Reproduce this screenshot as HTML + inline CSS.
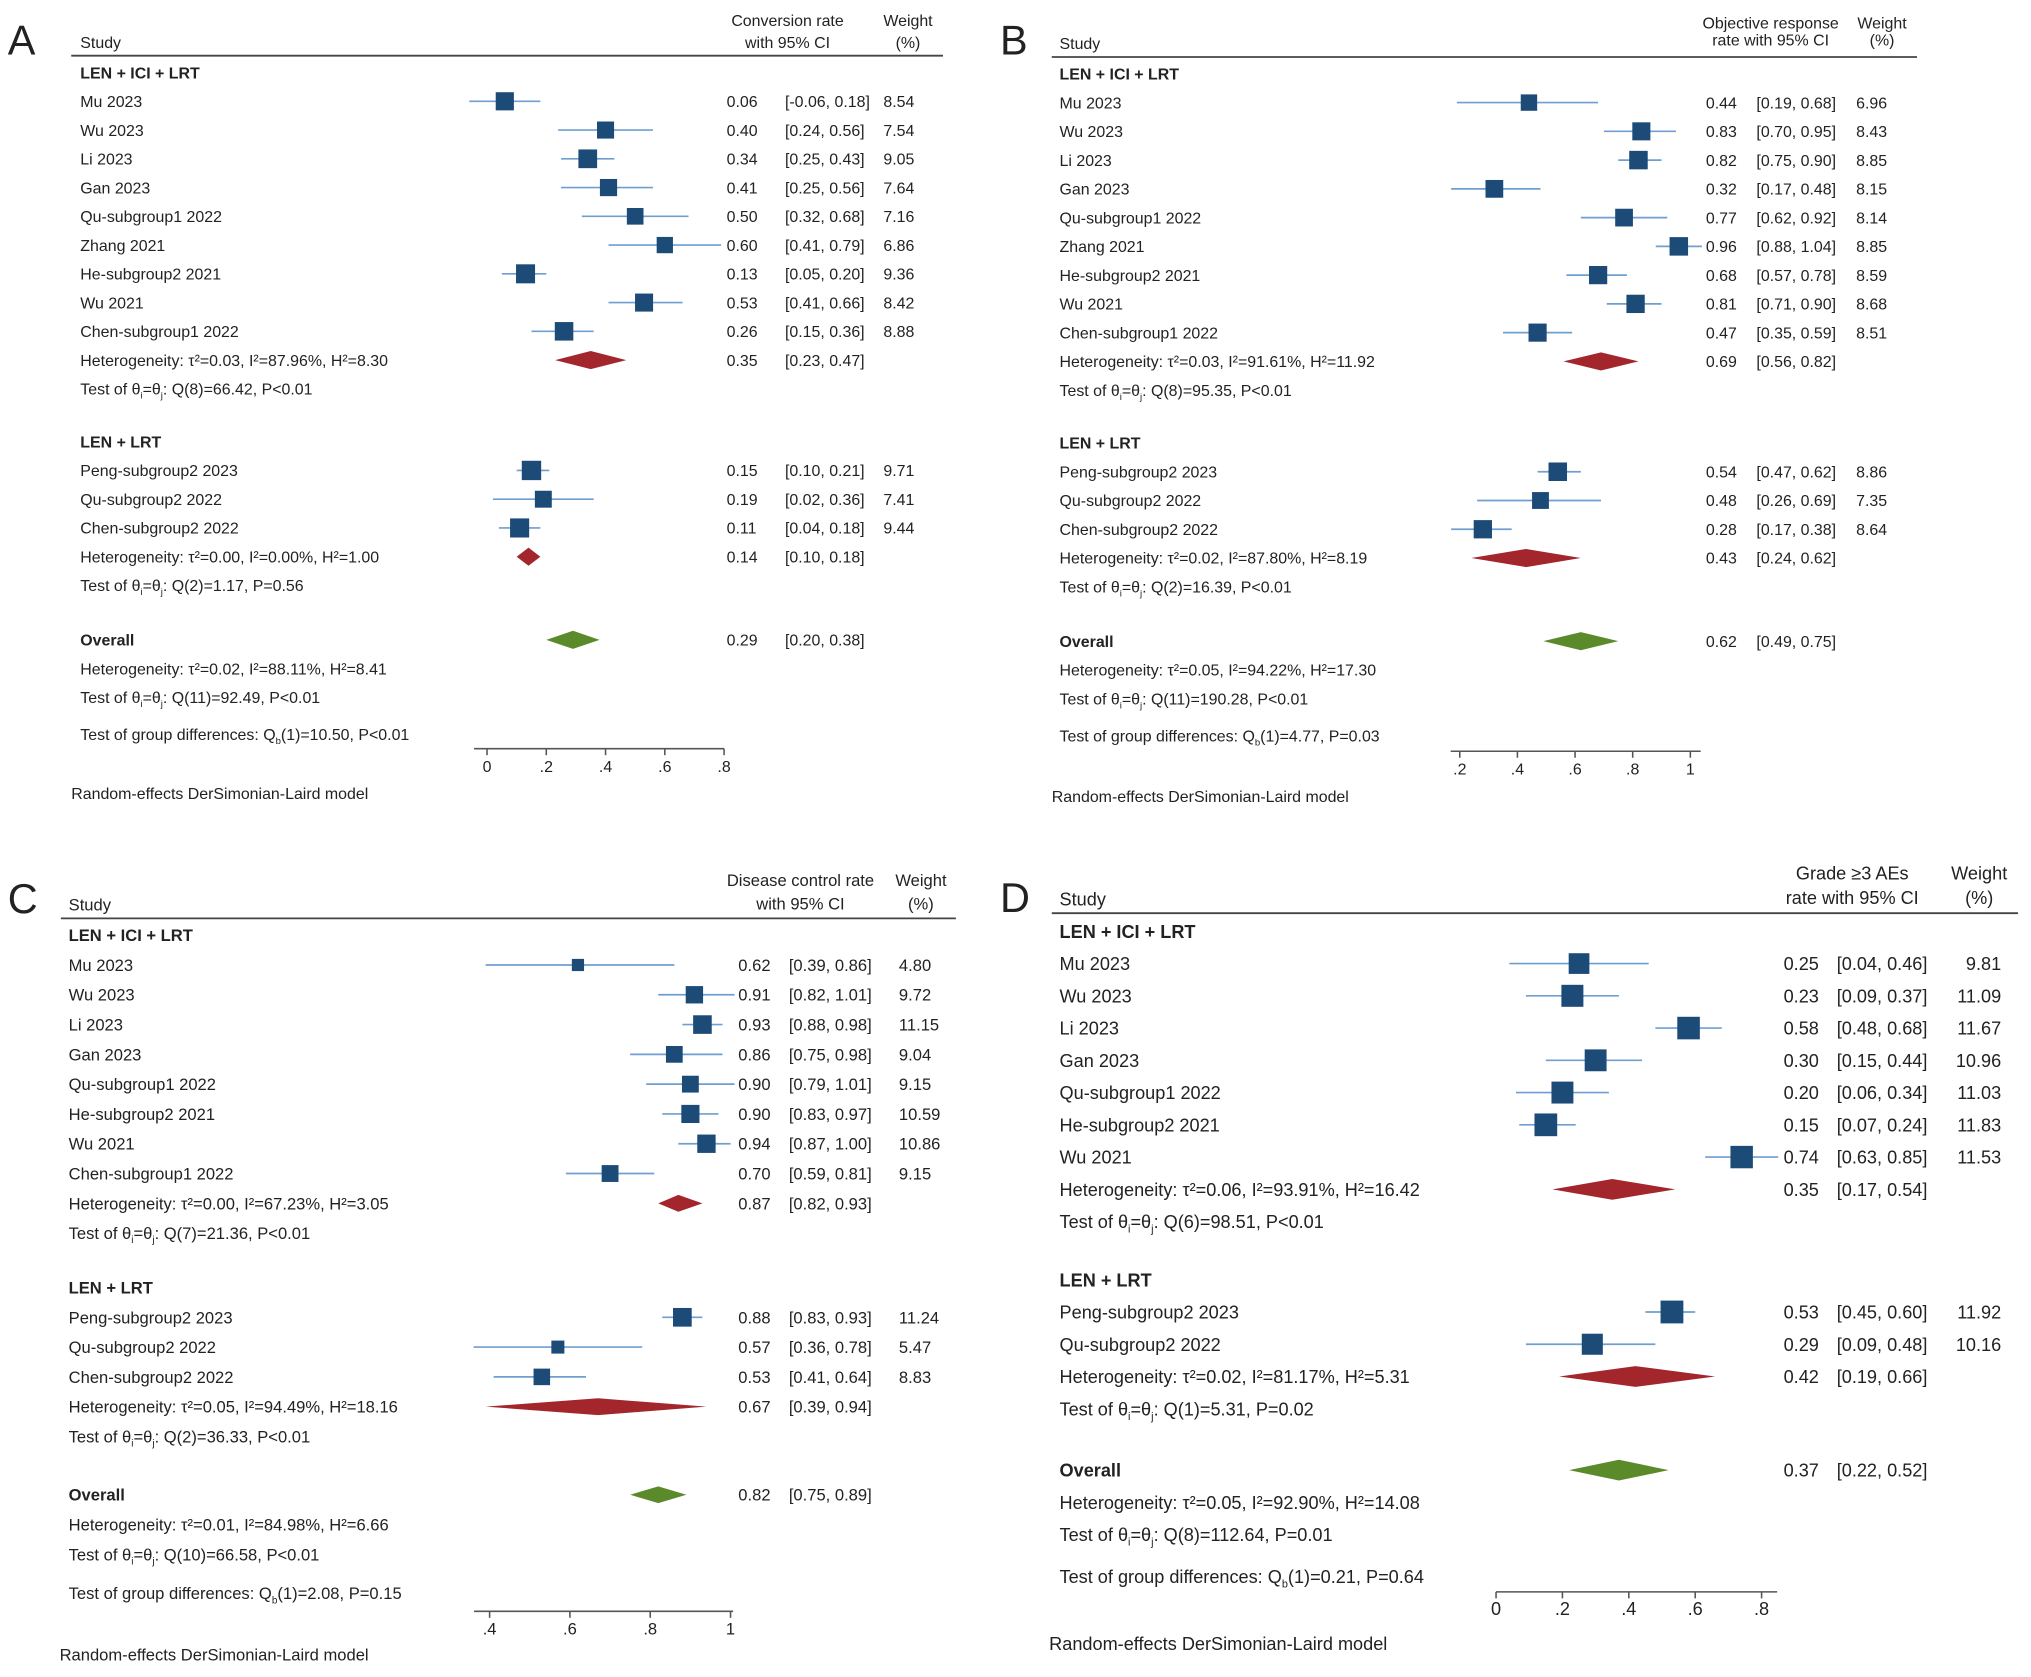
<!DOCTYPE html>
<html><head><meta charset="utf-8"><style>
html,body{margin:0;padding:0;background:#fff;}
svg{display:block;font-family:"Liberation Sans",sans-serif;}
</style></head><body>
<svg id="fig" width="2031" height="1677" viewBox="0 0 1568 1294.7" xmlns="http://www.w3.org/2000/svg"></svg>
<script>
// ---------- Data: panel A (conversion rate) ----------
const aNames=["Mu 2023","Wu 2023","Li 2023","Gan 2023","Qu-subgroup1 2022","Zhang 2021","He-subgroup2 2021","Wu 2021","Chen-subgroup1 2022","Peng-subgroup2 2023","Qu-subgroup2 2022","Chen-subgroup2 2022"];
const aGroup=[0,0,0,0,0,0,0,0,0,1,1,1];
const aEst=[0.06,0.40,0.34,0.41,0.50,0.60,0.13,0.53,0.26,0.15,0.19,0.11];
const aLo=[-0.06,0.24,0.25,0.25,0.32,0.41,0.05,0.41,0.15,0.10,0.02,0.04];
const aHi=[0.18,0.56,0.43,0.56,0.68,0.79,0.20,0.66,0.36,0.21,0.36,0.18];
const aW=[8.54,7.54,9.05,7.64,7.16,6.86,9.36,8.42,8.88,9.71,7.41,9.44];
const aSumEst=[0.35,0.14,0.29];
const aSumLo=[0.23,0.10,0.20];
const aSumHi=[0.47,0.18,0.38];
const aHet=["τ²=0.03, I²=87.96%, H²=8.30","τ²=0.00, I²=0.00%, H²=1.00","τ²=0.02, I²=88.11%, H²=8.41"];
const aTest=["Q(8)=66.42, P<0.01","Q(2)=1.17, P=0.56","Q(11)=92.49, P<0.01"];
const aGd="(1)=10.50, P<0.01";
const aTicks=[0,0.2,0.4,0.6,0.8];
const aTickLabels=["0",".2",".4",".6",".8"];
// ---------- Data: panel B (objective response rate) ----------
const bNames=["Mu 2023","Wu 2023","Li 2023","Gan 2023","Qu-subgroup1 2022","Zhang 2021","He-subgroup2 2021","Wu 2021","Chen-subgroup1 2022","Peng-subgroup2 2023","Qu-subgroup2 2022","Chen-subgroup2 2022"];
const bGroup=[0,0,0,0,0,0,0,0,0,1,1,1];
const bEst=[0.44,0.83,0.82,0.32,0.77,0.96,0.68,0.81,0.47,0.54,0.48,0.28];
const bLo=[0.19,0.70,0.75,0.17,0.62,0.88,0.57,0.71,0.35,0.47,0.26,0.17];
const bHi=[0.68,0.95,0.90,0.48,0.92,1.04,0.78,0.90,0.59,0.62,0.69,0.38];
const bW=[6.96,8.43,8.85,8.15,8.14,8.85,8.59,8.68,8.51,8.86,7.35,8.64];
const bSumEst=[0.69,0.43,0.62];
const bSumLo=[0.56,0.24,0.49];
const bSumHi=[0.82,0.62,0.75];
const bHet=["τ²=0.03, I²=91.61%, H²=11.92","τ²=0.02, I²=87.80%, H²=8.19","τ²=0.05, I²=94.22%, H²=17.30"];
const bTest=["Q(8)=95.35, P<0.01","Q(2)=16.39, P<0.01","Q(11)=190.28, P<0.01"];
const bGd="(1)=4.77, P=0.03";
const bTicks=[0.2,0.4,0.6,0.8,1];
const bTickLabels=[".2",".4",".6",".8","1"];
// ---------- Data: panel C (disease control rate) ----------
const cNames=["Mu 2023","Wu 2023","Li 2023","Gan 2023","Qu-subgroup1 2022","He-subgroup2 2021","Wu 2021","Chen-subgroup1 2022","Peng-subgroup2 2023","Qu-subgroup2 2022","Chen-subgroup2 2022"];
const cGroup=[0,0,0,0,0,0,0,0,1,1,1];
const cEst=[0.62,0.91,0.93,0.86,0.90,0.90,0.94,0.70,0.88,0.57,0.53];
const cLo=[0.39,0.82,0.88,0.75,0.79,0.83,0.87,0.59,0.83,0.36,0.41];
const cHi=[0.86,1.01,0.98,0.98,1.01,0.97,1.00,0.81,0.93,0.78,0.64];
const cW=[4.80,9.72,11.15,9.04,9.15,10.59,10.86,9.15,11.24,5.47,8.83];
const cSumEst=[0.87,0.67,0.82];
const cSumLo=[0.82,0.39,0.75];
const cSumHi=[0.93,0.94,0.89];
const cHet=["τ²=0.00, I²=67.23%, H²=3.05","τ²=0.05, I²=94.49%, H²=18.16","τ²=0.01, I²=84.98%, H²=6.66"];
const cTest=["Q(7)=21.36, P<0.01","Q(2)=36.33, P<0.01","Q(10)=66.58, P<0.01"];
const cGd="(1)=2.08, P=0.15";
const cTicks=[0.4,0.6,0.8,1];
const cTickLabels=[".4",".6",".8","1"];
// ---------- Data: panel D (grade >=3 AEs) ----------
const dNames=["Mu 2023","Wu 2023","Li 2023","Gan 2023","Qu-subgroup1 2022","He-subgroup2 2021","Wu 2021","Peng-subgroup2 2023","Qu-subgroup2 2022"];
const dGroup=[0,0,0,0,0,0,0,1,1];
const dEst=[0.25,0.23,0.58,0.30,0.20,0.15,0.74,0.53,0.29];
const dLo=[0.04,0.09,0.48,0.15,0.06,0.07,0.63,0.45,0.09];
const dHi=[0.46,0.37,0.68,0.44,0.34,0.24,0.85,0.60,0.48];
const dW=[9.81,11.09,11.67,10.96,11.03,11.83,11.53,11.92,10.16];
const dSumEst=[0.35,0.42,0.37];
const dSumLo=[0.17,0.19,0.22];
const dSumHi=[0.54,0.66,0.52];
const dHet=["τ²=0.06, I²=93.91%, H²=16.42","τ²=0.02, I²=81.17%, H²=5.31","τ²=0.05, I²=92.90%, H²=14.08"];
const dTest=["Q(6)=98.51, P<0.01","Q(1)=5.31, P=0.02","Q(8)=112.64, P=0.01"];
const dGd="(1)=0.21, P=0.64";
const dTicks=[0,0.2,0.4,0.6,0.8];
const dTickLabels=["0",".2",".4",".6",".8"];

const groupNames=["LEN + ICI + LRT","LEN + LRT"];
const NS="http://www.w3.org/2000/svg";
const svg=document.getElementById('fig');

function mk(tag,attrs,parent){const e=document.createElementNS(NS,tag);for(const k in attrs)e.setAttribute(k,attrs[k]);(parent||svg).appendChild(e);return e;}
function txt(parent,x,y,s,fs,opts){opts=opts||{};const t=mk('text',{x:x,y:y,'font-size':fs,fill:opts.fill||'#222','text-anchor':opts.anchor||'start','font-weight':opts.bold?'bold':'normal'},parent);t.textContent=s;return t;}
function testText(parent,x,y,fs,rest){
  const t=mk('text',{x:x,y:y,'font-size':fs,fill:'#222'},parent);
  const p=(s,sub)=>{const ts=mk('tspan',sub?{'font-size':fs*0.6,dy:fs*0.25}:{dy:sub===false?-fs*0.25:0},t);ts.textContent=s;};
  const a=mk('tspan',{},t);a.textContent="Test of θ";
  let s1=mk('tspan',{'font-size':fs*0.6,dy:fs*0.25},t);s1.textContent="i";
  let b=mk('tspan',{dy:-fs*0.25},t);b.textContent="=θ";
  let s2=mk('tspan',{'font-size':fs*0.6,dy:fs*0.25},t);s2.textContent="j";
  let c=mk('tspan',{dy:-fs*0.25},t);c.textContent=": "+rest;
  return t;
}
function gdText(parent,x,y,fs,rest){
  const t=mk('text',{x:x,y:y,'font-size':fs,fill:'#222'},parent);
  const a=mk('tspan',{},t);a.textContent="Test of group differences: Q";
  const s=mk('tspan',{'font-size':fs*0.6,dy:fs*0.25},t);s.textContent="b";
  const b=mk('tspan',{dy:-fs*0.25},t);b.textContent=rest;
}
function fmt(v){return v.toFixed(2);}

function drawPanel(L,D){
  const g=mk('g',{});
  
  
  const fs=L.fs, off=L.fs*0.36;
  const X=v=>L.x0+v*L.scale;
  const pl=txt(g,L.lx,L.ly,L.letter,32);
  
  const st=txt(g,L.labX,L.studyY,"Study",fs);
  
  const h1=txt(g,L.hdrX,L.hdrY1,L.hdr1,fs,{anchor:'middle'});
  
  txt(g,L.hdrX,L.hdrY2,L.hdr2,fs,{anchor:'middle'});
  const wh=txt(g,L.whX,L.hdrY1,"Weight",fs,{anchor:'middle'});
  
  txt(g,L.whX,L.hdrY2,"(%)",fs,{anchor:'middle'});
  const hl=mk('line',{x1:L.lineX1,x2:L.lineX2,y1:L.lineY,y2:L.lineY,stroke:'#444','stroke-width':1.4},g);
  

  function diamond(i,cy,color,name){
    const d=mk('polygon',{points:`${X(D.sLo[i])},${cy} ${X(D.sEst[i])},${cy-L.dh} ${X(D.sHi[i])},${cy} ${X(D.sEst[i])},${cy+L.dh}`,fill:color},g);
    
    txt(g,L.valX,cy+off,fmt(D.sEst[i]),fs);
    txt(g,L.ciX,cy+off,"["+fmt(D.sLo[i])+",  "+fmt(D.sHi[i])+"]",fs);
  }
  for(let gi=0;gi<2;gi++){
    const gy=L.groupY[gi];
    const gh=txt(g,L.labX,gy+off,groupNames[gi],fs,{bold:true});
    
    let k=0;
    for(let i=0;i<D.names.length;i++){
      if(D.group[i]!==gi)continue;
      k++;
      const cy=gy+L.step*k;
      const lab=txt(g,L.labX,cy+off,D.names[i],fs);
      
      const ci=mk('line',{x1:X(D.lo[i]),x2:X(D.hi[i]),y1:cy,y2:cy,stroke:'#6f9fd0','stroke-width':1.3},g);
      
      const s=L.sq*Math.sqrt(D.w[i]);
      const sq=mk('rect',{x:X(D.est[i])-s/2,y:cy-s/2,width:s,height:s,fill:'#1d4b78'},g);
      
      txt(g,L.valX,cy+off,fmt(D.est[i]),fs);
      txt(g,L.ciX,cy+off,"["+fmt(D.lo[i])+",  "+fmt(D.hi[i])+"]",fs);
      const wt=txt(g,L.wtX,cy+off,fmt(D.w[i]),fs,{anchor:L.wtAnchor});
      
    }
    const hy=gy+L.step*(k+1);
    txt(g,L.labX,hy+off,"Heterogeneity: "+D.het[gi],fs);
    diamond(gi,hy,'#a3262d','subgroup-diamond');
    testText(g,L.labX,hy+L.step+off,fs,D.test[gi]);
  }
  const oy=L.overallY;
  const ov=txt(g,L.labX,oy+off,"Overall",fs,{bold:true});
  
  diamond(2,oy,'#5b8a2b','overall-diamond');
  txt(g,L.labX,oy+L.step+off,"Heterogeneity: "+D.het[2],fs);
  testText(g,L.labX,oy+2*L.step+off,fs,D.test[2]);
  gdText(g,L.labX,L.gdY+off,fs,D.gd);
  // axis
  const ax=mk('line',{x1:L.axX1,x2:L.axX2,y1:L.axY,y2:L.axY,stroke:'#555','stroke-width':1.2},g);
  
  D.ticks.forEach((t,i)=>{
    const tk=mk('line',{x1:X(t),x2:X(t),y1:L.axY,y2:L.axY+5,stroke:'#555','stroke-width':1.2},g);
    
    const tl=txt(g,X(t),L.axY+18,D.tickLabels[i],fs,{anchor:'middle'});
    
  });
  const ft=txt(g,L.footX,L.footY,"Random-effects DerSimonian-Laird model",fs);
  
}

drawPanel({letter:'A',lx:6,ly:42,labX:62,studyY:37,hdr1:'Conversion rate',hdr2:'with 95% CI',hdrX:608,whX:701,hdrY1:20,hdrY2:37,
  lineX1:55,lineX2:728,lineY:43,fs:12.3,x0:376,scale:228.75,step:22.2,groupY:[56,341],overallY:494,gdY:567,
  axY:578,axX1:366,axX2:559,valX:561,ciX:606,wtX:682,wtAnchor:'start',sq:4.8,dh:7,footX:55,footY:617},
 {names:aNames,group:aGroup,est:aEst,lo:aLo,hi:aHi,w:aW,sEst:aSumEst,sLo:aSumLo,sHi:aSumHi,het:aHet,test:aTest,gd:aGd,ticks:aTicks,tickLabels:aTickLabels});

drawPanel({letter:'B',lx:772,ly:42,labX:818,studyY:38,hdr1:'Objective response',hdr2:'rate with 95% CI',hdrX:1367,whX:1453,hdrY1:22,hdrY2:35,
  lineX1:812,lineX2:1480,lineY:44,fs:12.3,x0:1082.5,scale:222.5,step:22.2,groupY:[57,342],overallY:495,gdY:568,
  axY:580,axX1:1120,axX2:1313,valX:1317,ciX:1356,wtX:1433,wtAnchor:'start',sq:4.8,dh:7,footX:812,footY:619},
 {names:bNames,group:bGroup,est:bEst,lo:bLo,hi:bHi,w:bW,sEst:bSumEst,sLo:bSumLo,sHi:bSumHi,het:bHet,test:bTest,gd:bGd,ticks:bTicks,tickLabels:bTickLabels});

drawPanel({letter:'C',lx:6,ly:705,labX:53,studyY:703,hdr1:'Disease control rate',hdr2:'with 95% CI',hdrX:618,whX:711,hdrY1:684,hdrY2:702,
  lineX1:47,lineX2:738,lineY:709,fs:12.8,x0:254,scale:310,step:23,groupY:[722,994],overallY:1154,gdY:1230,
  axY:1244,axX1:366,axX2:566,valX:570,ciX:609,wtX:694,wtAnchor:'start',sq:4.3,dh:6.5,footX:46,footY:1282},
 {names:cNames,group:cGroup,est:cEst,lo:cLo,hi:cHi,w:cW,sEst:cSumEst,sLo:cSumLo,sHi:cSumHi,het:cHet,test:cTest,gd:cGd,ticks:cTicks,tickLabels:cTickLabels});

drawPanel({letter:'D',lx:772,ly:704,labX:818,studyY:699,hdr1:'Grade ≥3 AEs',hdr2:'rate with 95% CI',hdrX:1430,whX:1528,hdrY1:679,hdrY2:698,
  lineX1:812,lineX2:1558,lineY:705,fs:14,x0:1155,scale:256.25,step:24.9,groupY:[719,988],overallY:1135,gdY:1217,
  axY:1229,axX1:1155,axX2:1372,valX:1377,ciX:1418,wtX:1545,wtAnchor:'end',sq:5.1,dh:8,footX:810,footY:1274},
 {names:dNames,group:dGroup,est:dEst,lo:dLo,hi:dHi,w:dW,sEst:dSumEst,sLo:dSumLo,sHi:dSumHi,het:dHet,test:dTest,gd:dGd,ticks:dTicks,tickLabels:dTickLabels});
</script>
</body></html>
